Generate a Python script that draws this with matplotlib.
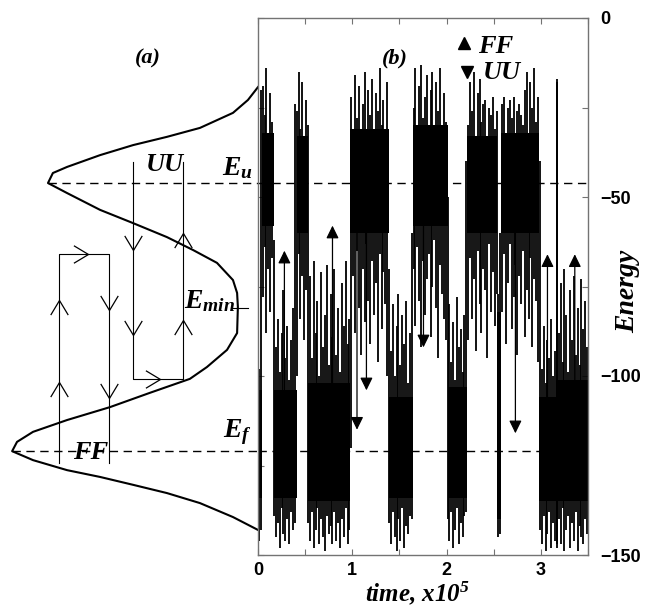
import numpy as np
import matplotlib
matplotlib.use('Agg')
import matplotlib.pyplot as plt
from matplotlib.path import Path

plt.rcParams['mathtext.fontset'] = 'custom'
plt.rcParams['mathtext.rm'] = 'Liberation Serif:bold:italic'
plt.rcParams['mathtext.it'] = 'Liberation Serif:bold:italic'
plt.rcParams['mathtext.bf'] = 'Liberation Serif:bold:italic'

# energy levels
E_U = -46
E_F = -121
E_MIN = -81

# (a) free-energy profile (x in units of panel width)
curve_x = [1.0, 0.961, 0.903, 0.775, 0.647, 0.516, 0.388, 0.260, 0.205, 0.186,
           0.260, 0.388, 0.516, 0.647, 0.748, 0.841, 0.903, 0.919, 0.922, 0.919,
           0.880, 0.802, 0.736, 0.581, 0.426, 0.260, 0.128, 0.066, 0.047, 0.128,
           0.260, 0.388, 0.516, 0.647, 0.775, 0.903, 1.0]
curve_E = [-19.3, -22.9, -26.5, -30.7, -33.2, -35.5, -38.3, -41.6, -43.3, -46.1,
           -48.9, -53.6, -57.3, -61.2, -64.8, -68.4, -73.2, -76.8, -80.7, -88.0,
           -92.7, -97.5, -100.8, -104.7, -108.7, -112.3, -115.6, -118.4, -121.0, -123.5,
           -126.3, -128.2, -130.4, -132.7, -135.5, -139.4, -143.0]

# schematic loops in (a)
ff_x = [0.229, 0.422]
ff_E = [-65.9, -124.3]
uu_x = [0.516, 0.709]
uu_E = [-40.2, -100.8]

# (b) trace: segments (F / U basin) with their dense core band
seg_start = [0.00, 0.04, 0.17, 0.41, 0.53, 0.98, 1.39, 1.64, 2.01, 2.22, 2.54, 2.58, 2.98, 3.16, 3.18]
seg_end = [0.04, 0.17, 0.41, 0.53, 0.98, 1.39, 1.64, 2.01, 2.22, 2.54, 2.58, 2.98, 3.16, 3.18, 3.50]
core_top = [-104, -32, -104, -33, -102, -31, -106, -30, -103, -33, -82, -32, -106, -18, -101]
core_bot = [-134, -58, -134, -60, -135, -60, -134, -58, -134, -60, -140, -60, -135, -147, -135]

# (b) trace: extreme excursions, one per 0.02 in time
spike_hi = [
    -98, -20,
    -19, -27, -14, -33, -21, -29,
    -62, -92, -84, -99, -88, -76, -95, -86, -101, -90, -81, -24,
    -26, -15, -31, -18, -35, -23,
    -30, -72, -95, -68, -88, -79, -100, -71, -92, -83, -69, -97, -77, -89, -70, -94,
    -81, -99, -74, -86, -68, -91, -84,
    -22, -34, -16, -28, -19, -36, -24, -15, -31, -20, -27, -17, -33, -21, -26, -14,
    -30, -23, -35, -18,
    -70, -93, -80, -100, -86, -77, -97, -83, -91, -79, -102, -88, -60,
    -25, -14, -32, -19, -13, -28, -22, -16, -35, -20, -15, -30, -18, -26, -14, -33,
    -21, -29,
    -50, -80, -96, -85, -101, -78, -92, -87, -99, -83, -40,
    -30, -18, -26, -15, -33, -21, -17, -29, -24, -23, -35, -25, -27, -22, -31, -26,
    -77, -60,
    -24, -22, -32, -25, -23, -28, -22, -35, -26, -24, -27, -30, -20, -15, -33, -18,
    -25, -14, -29, -22,
    -40, -98, -86, -102, -90, -95, -84, -100, -93,
    -17,
    -88, -74, -96, -70, -83, -99, -76, -90, -72, -94, -81, -97, -73, -87, -79, -92,
]
spike_lo = [
    -146, -143,
    -78, -64, -88, -70, -82, -67,
    -139, -145, -141, -148, -137, -144, -146, -140, -147, -138, -143, -141,
    -100, -66, -84, -72, -90, -76,
    -141, -146, -138, -148, -143, -137, -147, -140, -145, -149, -139, -144, -142, -147,
    -138, -146, -141, -148, -140, -145, -137, -147, -143,
    -120, -72, -88, -65, -81, -94, -70, -85, -63, -79, -91, -68, -83, -74, -96, -66,
    -87, -71, -80, -100,
    -141, -147, -138, -145, -149, -140, -146, -137, -148, -142, -144, -139, -140,
    -70, -86, -64, -79, -92, -68, -83, -73, -66, -89, -75, -62, -81, -95, -69, -77,
    -84, -90,
    -140, -146, -138, -148, -143, -137, -147, -141, -145, -139, -138,
    -90, -67, -84, -73, -93, -65, -80, -88, -70, -76, -95, -63, -82, -71, -86, -77,
    -145, -144,
    -82, -66, -91, -74, -63, -87, -78, -69, -94, -72, -80, -65, -89, -76, -84, -67,
    -92, -73, -79, -96,
    -143, -147, -139, -149, -144, -138, -148, -141, -146,
    -148,
    -140, -147, -137, -149, -143, -139, -148, -141, -146, -138, -149, -142, -145, -147,
    -140, -144,
]
t_grid = np.arange(0.01, 3.5, 0.02)
assert len(spike_hi) == len(spike_lo) == len(t_grid)

# transitions marked with arrows
ff_t = [0.28, 0.79, 3.07, 3.36]
ff_from = [-125, -125, -120, -120]
ff_to = [-65, -58, -66, -66]
uu_t = [1.05, 1.15, 1.755, 2.73]
uu_from = [-40, -40, -45, -45]
uu_to = [-115, -104, -92, -116]

fig = plt.figure(figsize=(6.5, 6.09), dpi=100)
bot = 54 / 609
hgt = 537 / 609
ax_a = fig.add_axes([0, bot, 258 / 650, hgt])
ax_b = fig.add_axes([258 / 650, bot, 330 / 650, hgt])

serif = dict(family='Liberation Serif', weight='bold', style='italic')

# ---- panel (a)
ax_a.set_xlim(0, 1)
ax_a.set_ylim(-150, 0)
ax_a.axis('off')
ax_a.plot(curve_x, curve_E, color='k', lw=1.5)
ax_a.plot([0.186, 1], [E_U, E_U], color='k', lw=1, dashes=(6, 4))
ax_a.plot([0.047, 1], [E_F, E_F], color='k', lw=1, dashes=(6, 4))

loop_kw = dict(color='k', lw=0.8)
ax_a.plot([ff_x[0], ff_x[0], ff_x[1], ff_x[1]], [ff_E[1], ff_E[0], ff_E[0], ff_E[1]], **loop_kw)
ax_a.plot([uu_x[0], uu_x[0], uu_x[1], uu_x[1]], [uu_E[0], uu_E[1], uu_E[1], uu_E[0]], **loop_kw)

up = Path([(-0.6, -1), (0, 0), (0.6, -1)], [Path.MOVETO, Path.LINETO, Path.LINETO])
down = Path([(-0.6, 1), (0, 0), (0.6, 1)], [Path.MOVETO, Path.LINETO, Path.LINETO])
right = Path([(-1, 0.6), (0, 0), (-1, -0.6)], [Path.MOVETO, Path.LINETO, Path.LINETO])
chev = dict(ls='none', ms=21, mfc='none', mec='k', mew=0.9)
ax_a.plot([ff_x[0], ff_x[0]], [-78.8, -101.7], marker=up, **chev)
ax_a.plot([ff_x[1], ff_x[1]], [-81.6, -106.1], marker=down, **chev)
ax_a.plot([0.341], [ff_E[0]], marker=right, **chev)
ax_a.plot([uu_x[0], uu_x[0]], [-64.8, -88.5], marker=down, **chev)
ax_a.plot([uu_x[1], uu_x[1]], [-60.1, -84.4], marker=up, **chev)
ax_a.plot([0.620], [uu_E[1]], marker=right, **chev)

ax_a.text(0.574, -11.2, '(a)', fontsize=16, ha='center', va='center', **serif)
ax_a.text(0.640, -40.8, 'UU', fontsize=19, ha='center', va='center', **serif)
ax_a.text(0.353, -121.5, 'FF', fontsize=19, ha='center', va='center', **serif)
ax_a.text(0.919, -41.6, '$E_u$', fontsize=20, ha='center', va='center')
ax_a.text(0.814, -78.8, '$E_{min}$', fontsize=20, ha='center', va='center')
ax_a.plot([0.90, 0.96], [E_MIN, E_MIN], color='k', lw=0.8)
ax_a.text(0.919, -115.6, '$E_f$', fontsize=20, ha='center', va='center')

# ---- panel (b)
ax_b.set_xlim(0, 3.5)
ax_b.set_ylim(-150, 0)
ax_b.axhline(E_U, color='k', lw=1, dashes=(6, 4), zorder=1)
ax_b.axhline(E_F, color='k', lw=1, dashes=(6, 4), zorder=1)
for t0, t1, top, low in zip(seg_start, seg_end, core_top, core_bot):
    ax_b.fill_between([t0, t1], low, top, color='k', lw=0, zorder=2)
ax_b.vlines(t_grid, spike_lo, spike_hi, color='k', lw=1.3, zorder=2)

head = '-|>,head_length=0.55,head_width=0.27'
for t, a, b in zip(ff_t + uu_t, ff_from + uu_from, ff_to + uu_to):
    ax_b.annotate('', xy=(t, b), xytext=(t, a),
                  arrowprops=dict(arrowstyle=head, mutation_scale=14, color='k',
                                  lw=0.9, shrinkA=0, shrinkB=0), zorder=3)

ax_b.text(1.447, -11.2, '(b)', fontsize=16, ha='center', va='center', **serif)
ax_b.plot([2.18], [-7.0], marker='^', ms=8, color='k', ls='none')
ax_b.plot([2.22], [-15.1], marker='v', ms=8, color='k', ls='none')
ax_b.text(2.33, -8.1, 'FF', fontsize=19, ha='left', va='center', **serif)
ax_b.text(2.39, -15.1, 'UU', fontsize=19, ha='left', va='center', **serif)

ax_b.set_xticks(np.arange(0, 3.51, 0.5))
ax_b.set_xticklabels(['0', '', '1', '', '2', '', '3', ''])
ax_b.set_yticks(np.arange(-150, 1, 25))
ax_b.set_yticklabels(['\u2212150', '', '\u2212100', '', '\u221250', '', '0'])
ax_b.tick_params(direction='in', length=4, color='0.45', top=True, right=True,
                 labelleft=False, labelright=True, labelsize=13)
ax_b.tick_params(axis='x', pad=5)
ax_b.tick_params(axis='y', pad=9)
for lab in ax_b.get_xticklabels() + ax_b.get_yticklabels():
    lab.set_family('Liberation Sans')
    lab.set_weight('bold')
for sp in ax_b.spines.values():
    sp.set_color('0.45')
    sp.set_linewidth(1)

fig.text(417 / 650, 1 - 593 / 609, 'time, x10$^5$', fontsize=18, ha='center', va='center', **serif)
fig.text(628 / 650, 1 - 291 / 609, 'Energy', fontsize=20, rotation=90,
         ha='center', va='center', **serif)

fig.savefig('out.png', dpi=100)
